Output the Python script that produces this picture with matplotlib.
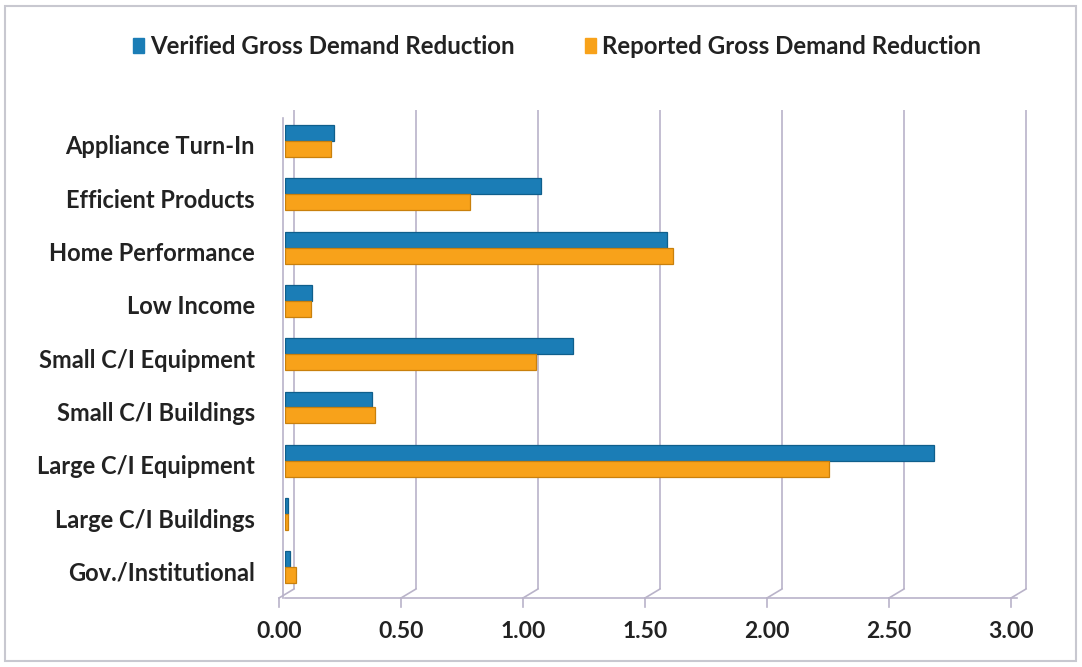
import matplotlib
matplotlib.use("Agg")
import matplotlib.pyplot as plt
import matplotlib.transforms as mtransforms
from matplotlib.patches import Rectangle

categories = ["Appliance Turn-In", "Efficient Products", "Home Performance",
              "Low Income", "Small C/I Equipment", "Small C/I Buildings",
              "Large C/I Equipment", "Large C/I Buildings", "Gov./Institutional"]
verified = [0.20, 1.05, 1.565, 0.11, 1.18, 0.355, 2.66, 0.012, 0.02]
reported = [0.19, 0.76, 1.59, 0.105, 1.03, 0.37, 2.23, 0.012, 0.045]
xticks = [0.0, 0.5, 1.0, 1.5, 2.0, 2.5, 3.0]
xtick_labels = ["0.00", "0.50", "1.00", "1.50", "2.00", "2.50", "3.00"]
series_names = ["Verified Gross Demand Reduction", "Reported Gross Demand Reduction"]

BLUE = "#1b7db6"
BLUE_E = "#0f5f8c"
ORANGE = "#f8a21a"
ORANGE_E = "#c9800c"
GRID = "#b9b3c9"
FONT = ["Lato", "DejaVu Sans"]
TXT = "#222222"

W, H = 1082, 667
fig = plt.figure(figsize=(W / 100, H / 100), dpi=100)
fig.patch.set_facecolor("white")

# outer frame
fig.add_artist(Rectangle((5 / W, 6 / H), (W - 11) / W, (H - 12) / H,
                         transform=fig.transFigure, fill=False,
                         edgecolor="#c8c8d0", linewidth=1.5))

x0_px, x3_px = 285, 1017
top_px, bot_px = 108, 598
ax = fig.add_axes([x0_px / W, (H - bot_px) / H, (x3_px - x0_px) / W, (bot_px - top_px) / H])
ax.set_xlim(0, 3)
y_first, y_step = 141, 53.3
ax.set_ylim(8 + (bot_px - (y_first + 8 * y_step)) / y_step, -(y_first - top_px) / y_step)
ax.axis("off")

n = len(categories)
pos = list(range(n))
bh = 0.30
ax.barh([p - bh / 2 for p in pos], verified, height=bh, color=BLUE,
        edgecolor=BLUE_E, linewidth=0.9, zorder=3)
ax.barh([p + bh / 2 for p in pos], reported, height=bh, color=ORANGE,
        edgecolor=ORANGE_E, linewidth=0.9, zorder=3)

# pseudo-3D walls / grid
blend = mtransforms.blended_transform_factory(ax.transData, ax.transAxes)
ax_h_px = bot_px - top_px
def off(dx):
    return blend + mtransforms.ScaledTranslation(dx / 100, 0, fig.dpi_scale_trans)

back_dx, front_dx = 9, -6
y_back_floor = (bot_px - 589) / ax_h_px
y_tick = -9 / ax_h_px
inv = fig.transFigure.inverted()
for v, lab in zip(xticks, xtick_labels):
    ax.plot([v, v], [y_back_floor, 1.0 - 2 / ax_h_px], transform=off(back_dx),
            color=GRID, lw=1.2, zorder=1, clip_on=False, solid_capstyle="butt")
    fb = inv.transform(off(back_dx).transform((v, y_back_floor)))
    ff = inv.transform(off(front_dx).transform((v, 0)))
    fig.add_artist(plt.Line2D([fb[0], ff[0]], [fb[1], ff[1]], color=GRID, lw=1.2))
    ax.plot([v, v], [0, y_tick], transform=off(front_dx), color=GRID, lw=1.2,
            clip_on=False)
    ax.text(v, -34 / ax_h_px, lab, transform=off(front_dx),
            ha="center", va="center", fontsize=16.5, color=TXT,
            family=FONT, weight="bold")

# front floor line
ax.plot([0, 3], [0, 0], transform=blend, color=GRID, lw=1.2, clip_on=False)
# left front edge
ax.plot([0, 0], [0, 1.0 - 10 / ax_h_px], transform=off(-2), color=GRID, lw=1.2,
        clip_on=False)

# category labels
lab_tr = ax.transData + mtransforms.ScaledTranslation(-30 / 100, -6 / 100, fig.dpi_scale_trans)
for p, c in zip(pos, categories):
    ax.text(0, p, c, transform=lab_tr, ha="right", va="center", fontsize=17,
            color=TXT, family=FONT, weight="bold")

# legend
leg_y = 1 - 46 / H
for x_sq, col, name in [(133, BLUE, series_names[0]), (585, ORANGE, series_names[1])]:
    fig.add_artist(Rectangle((x_sq / W, leg_y - 7 / H), 11 / W, 15 / H,
                             transform=fig.transFigure, color=col))
    fig.text((x_sq + 17) / W, leg_y, name, ha="left", va="center", fontsize=17.3,
             color=TXT, family=FONT, weight="bold")

fig.savefig("out.png", dpi=100, facecolor="white")
